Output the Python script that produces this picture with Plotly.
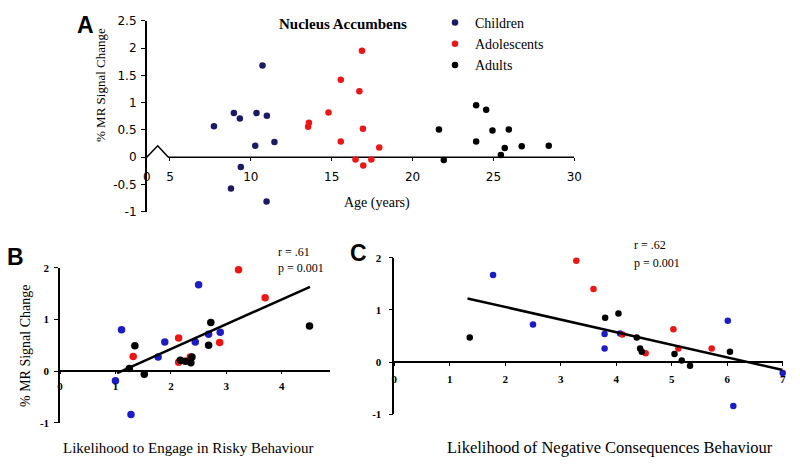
import plotly.graph_objects as go

# Panel A: age vs % MR signal change
child_age = [7.72, 8.95, 9.32, 10.35, 10.99, 10.72, 10.27, 11.46, 9.38, 8.77, 10.97]
child_mr = [0.57, 0.81, 0.71, 0.81, 0.76, 1.68, 0.21, 0.28, -0.18, -0.57, -0.81]
ado_age = [13.59, 13.54, 14.8, 16.87, 15.56, 16.71, 16.93, 15.56, 17.94, 16.47, 17.45, 16.95]
ado_mr = [0.63, 0.56, 0.82, 1.95, 1.42, 1.21, 0.52, 0.29, 0.18, -0.04, -0.04, -0.15]
adult_age = [21.63, 21.93, 23.93, 24.55, 24.94, 25.95, 23.93, 25.70, 25.46, 26.75, 28.42]
adult_mr = [0.51, -0.05, 0.95, 0.87, 0.49, 0.51, 0.29, 0.17, 0.04, 0.20, 0.21]

# Panel B: likelihood to engage in risky behaviour
b_child_x = [1.0, 1.11, 1.28, 1.77, 1.89, 2.50, 2.44, 2.68, 2.89]
b_child_y = [-0.19, 0.80, -0.84, 0.27, 0.56, 1.67, 0.56, 0.71, 0.75]
b_ado_x = [1.32, 2.14, 2.14, 2.35, 2.88, 3.22, 3.70]
b_ado_y = [0.28, 0.64, 0.17, 0.27, 0.55, 1.96, 1.42]
b_adult_x = [1.25, 1.35, 1.52, 2.17, 2.26, 2.38, 2.36, 2.68, 2.72, 4.50]
b_adult_y = [0.05, 0.49, -0.06, 0.21, 0.19, 0.27, 0.16, 0.50, 0.94, 0.87]
b_fit_x = [1.03, 4.51]
b_fit_y = [-0.04, 1.63]

# Panel C: likelihood of negative consequences
c_child_x = [1.78, 2.50, 3.79, 3.79, 4.07, 6.01, 6.11, 7.0]
c_child_y = [1.67, 0.72, 0.54, 0.26, 0.55, 0.79, -0.84, -0.21]
c_ado_x = [3.28, 3.59, 4.11, 4.53, 5.03, 5.12, 5.72]
c_ado_y = [1.94, 1.40, 0.53, 0.17, 0.63, 0.26, 0.26]
c_adult_x = [1.36, 3.80, 4.04, 4.37, 4.43, 4.46, 5.05, 5.18, 5.33, 6.05]
c_adult_y = [0.47, 0.85, 0.93, 0.47, 0.26, 0.20, 0.155, 0.03, -0.07, 0.20]
c_fit_x = [1.32, 7.0]
c_fit_y = [1.22, -0.15]

a_xticks = [5, 10, 15, 20, 25, 30]
a_yticks = [-1, -0.5, 0, 0.5, 1, 1.5, 2, 2.5]
bc_yticks = [-1, 0, 1, 2]

NAVY = '#1b1a62'
BLUE = '#1c1cc4'
RED = '#ee1515'
SERIF = 'Liberation Serif'

# the page body keeps its default 8px margin, so the figure is a bit smaller and shifted
OFF = 8
W, H = 800 - OFF, 465 - OFF


def px(x):
    return (x - OFF) / W


def py(y):
    return 1 - (y - OFF) / H


fig = go.Figure()

# axis break drawn on panel A's x axis
a_left = 3.56
fig.add_trace(go.Scatter(x=[a_left, 4.24, 4.9, 30], y=[0, 0.21, 0, 0], mode='lines',
                         line=dict(color='black', width=1.5), showlegend=False, hoverinfo='skip'))

for name, xs, ys, col in [('Children', child_age, child_mr, NAVY),
                          ('Adolescents', ado_age, ado_mr, RED),
                          ('Adults', adult_age, adult_mr, 'black')]:
    fig.add_trace(go.Scatter(x=xs, y=ys, mode='markers', name=name, cliponaxis=False,
                             marker=dict(color=col, size=6.5)))

for xs, ys, col in [(b_child_x, b_child_y, BLUE), (b_ado_x, b_ado_y, RED), (b_adult_x, b_adult_y, 'black')]:
    fig.add_trace(go.Scatter(x=xs, y=ys, mode='markers', xaxis='x2', yaxis='y2', showlegend=False,
                             cliponaxis=False, marker=dict(color=col, size=7.5)))
fig.add_trace(go.Scatter(x=b_fit_x, y=b_fit_y, mode='lines', xaxis='x2', yaxis='y2', showlegend=False,
                         line=dict(color='black', width=2.5)))

for xs, ys, col in [(c_child_x, c_child_y, BLUE), (c_ado_x, c_ado_y, RED), (c_adult_x, c_adult_y, 'black')]:
    fig.add_trace(go.Scatter(x=xs, y=ys, mode='markers', xaxis='x3', yaxis='y3', showlegend=False,
                             cliponaxis=False, marker=dict(color=col, size=6.5)))
fig.add_trace(go.Scatter(x=c_fit_x, y=c_fit_y, mode='lines', xaxis='x3', yaxis='y3', showlegend=False,
                         line=dict(color='black', width=2.5)))

common = dict(showgrid=False, zeroline=False, ticks='outside', tickcolor='black',
              linecolor='black', automargin=False)
serif_ticks = dict(family=SERIF, size=11, color='black', weight='bold')
sans_ticks = dict(family='DejaVu Sans', size=12, color='black')


def fmt(v):
    return ('%g' % v)


fig.update_layout(
    width=W, height=H, autosize=False,
    margin=dict(l=0, r=0, t=0, b=0, autoexpand=False),
    paper_bgcolor='white', plot_bgcolor='white',
    xaxis=dict(domain=[px(146.7), px(574.3)], range=[a_left, 30], anchor='free', position=py(157.3),
               showline=False, ticklen=3, tickvals=[a_left] + a_xticks,
               ticktext=['0'] + [fmt(v) for v in a_xticks], tickfont=sans_ticks,
               ticklabelstandoff=5, **common),
    yaxis=dict(domain=[py(211.9), py(20.7)], range=[-1, 2.5], anchor='x', showline=True, ticklen=4,
               linewidth=1.5, tickvals=a_yticks, ticktext=[fmt(v) for v in a_yticks], tickfont=sans_ticks,
               ticklabelstandoff=2, **common),
    xaxis2=dict(domain=[px(60), px(330)], range=[0, 4.87], anchor='free', position=py(370.7),
                showline=True, linewidth=1.5, ticklen=3, tickvals=[0, 1, 2, 3, 4], tickfont=serif_ticks,
                ticklabelstandoff=2, **common),
    yaxis2=dict(domain=[py(422.7), py(267.7)], range=[-1, 2], anchor='x2', showline=True, ticklen=4,
                linewidth=1.5, tickvals=bc_yticks, ticktext=[fmt(v) for v in bc_yticks], tickfont=serif_ticks,
                ticklabelstandoff=3, **common),
    xaxis3=dict(domain=[px(394.3), px(782.7)], range=[0, 7], anchor='free', position=py(362.1),
                showline=True, linewidth=1.5, ticklen=3, tickvals=list(range(8)), tickfont=serif_ticks,
                ticklabelstandoff=4, **common),
    yaxis3=dict(domain=[py(414.3), py(257.7)], range=[-1, 2], anchor='x3', showline=True, ticklen=4,
                linewidth=1.5, tickvals=bc_yticks, ticktext=[fmt(v) for v in bc_yticks], tickfont=serif_ticks,
                ticklabelstandoff=5, **common),
    legend=dict(x=px(435), y=py(7), xanchor='left', yanchor='top', bgcolor='rgba(0,0,0,0)',
                font=dict(family=SERIF, size=14, color='black'), itemwidth=30, tracegroupgap=0),
    showlegend=True,
)

annots = [
    dict(x=85, y=25, text='<b>A</b>', size=23, family='Liberation Sans'),
    dict(x=15, y=257, text='<b>B</b>', size=23, family='Liberation Sans'),
    dict(x=358, y=253, text='<b>C</b>', size=23, family='Liberation Sans'),
    dict(x=343, y=24, text='<b>Nucleus Accumbens</b>', size=15, family=SERIF),
    dict(x=376.7, y=203, text='Age (years)', size=14, family=SERIF),
    dict(x=188, y=448, text='Likelihood to Engage in Risky Behaviour', size=15, family=SERIF),
    dict(x=610, y=447, text='Likelihood of Negative Consequences Behaviour', size=16.5, family=SERIF),
]
for a in annots:
    fig.add_annotation(x=px(a['x']), y=py(a['y']), xref='paper', yref='paper', text=a['text'],
                       showarrow=False, xanchor='center', yanchor='middle',
                       font=dict(family=a['family'], size=a['size'], color='black'))

for x, y, size in [(100, 85, 13), (25, 346, 14)]:
    fig.add_annotation(x=px(x), y=py(y), xref='paper', yref='paper', text='% MR Signal Change',
                       textangle=-90, showarrow=False, xanchor='center', yanchor='middle',
                       font=dict(family=SERIF, size=size, color='black'))

for x, y1, y2, r in [(276, 252.3, 268.3, 'r = .61'), (631.7, 245, 262.7, 'r = .62')]:
    for y, t in [(y1, r), (y2, 'p = 0.001')]:
        fig.add_annotation(x=px(x), y=py(y), xref='paper', yref='paper', text=t, showarrow=False,
                           xanchor='left', yanchor='middle',
                           font=dict(family=SERIF, size=12, color='black'))

fig.write_html("out.html")
